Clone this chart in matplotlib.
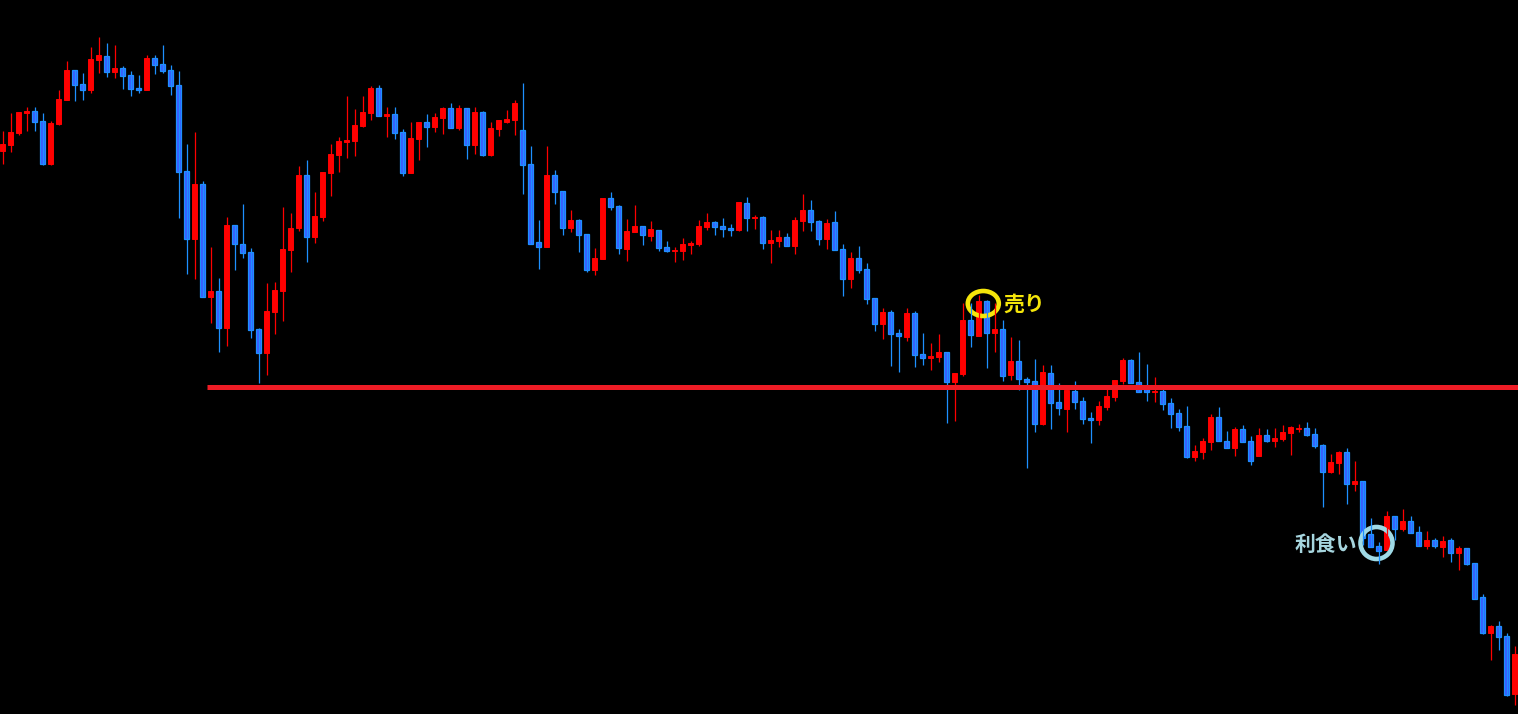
import numpy as np
import matplotlib
matplotlib.use("Agg")
import matplotlib.pyplot as plt
from matplotlib.patches import Ellipse

# candle colours: R = up (red), B = down (blue), ten candles per chunk
direction = "".join([
    "RRRRBBRRRB", "BRRBRBBBRB", "BBBBRBRBRB", "BBBRRRRRBR", "RRRRRRRBRB",
    "BRRBRRBRBR", "BRRRRBBBRB", "BRBBRRBBRR", "BRBBRRRRRB", "BBRBRBRRBR",
    "RBBRBBRBBB", "RBBRBBRRBR", "RBRBRBRBBB", "RBBRBBBRRR", "RBBBRBBBBR",
    "RRBBRBBRBR", "RRRBBBRRBR", "BBBRBRBBRB", "RBRBBBRBBR",
])

# readings in screen units (distance from the top edge)
wick_hi = [131, 113, 112, 107, 107, 113, 121, 90, 61, 70,
           73, 47, 37, 43, 45, 66, 71, 75, 55, 55,
           45, 65, 71, 144, 132, 181, 247, 278, 217, 225,
           204, 248, 328, 283, 282, 207, 213, 166, 160, 192,
           172, 144, 137, 96, 109, 96, 86, 85, 107, 107,
           129, 122, 122, 114, 113, 107, 103, 105, 108, 107,
           111, 122, 120, 110, 100, 83, 146, 220, 146, 170,
           191, 210, 219, 234, 248, 198, 192, 205, 219, 205,
           226, 221, 230, 241, 247, 238, 241, 220, 213, 221,
           218, 224, 202, 197, 215, 216, 230, 230, 233, 217,
           194, 200, 220, 219, 211, 244, 252, 246, 263, 298,
           308, 310, 329, 308, 311, 333, 343, 334, 352, 373,
           303, 303, 295, 300, 303, 320, 337, 340, 377, 359,
           365, 365, 383, 385, 381, 397, 412, 401, 387, 380,
           358, 359, 352, 364, 377, 386, 398, 409, 406, 445,
           438, 414, 407, 431, 427, 425, 436, 428, 429, 428,
           425, 426, 424, 422, 428, 444, 454, 451, 448, 461,
           481, 518, 542, 511, 516, 509, 516, 526, 531, 538,
           536, 538, 546, 548, 563, 594, 625, 621, 633, 646]
body_hi = [144, 132, 112, 111, 111, 121, 123, 99, 70, 70,
           84, 59, 55, 56, 68, 68, 75, 88, 58, 58,
           64, 70, 85, 171, 184, 184, 291, 291, 225, 225,
           244, 252, 329, 311, 290, 249, 228, 175, 175, 216,
           172, 154, 141, 140, 125, 112, 88, 88, 114, 114,
           132, 138, 122, 122, 117, 108, 108, 108, 108, 112,
           112, 128, 120, 119, 103, 130, 164, 242, 175, 175,
           191, 220, 220, 234, 258, 198, 198, 206, 231, 226,
           226, 229, 230, 247, 250, 244, 243, 226, 222, 222,
           226, 228, 202, 203, 217, 217, 240, 237, 237, 220,
           210, 210, 221, 223, 222, 249, 258, 258, 269, 298,
           312, 312, 333, 313, 313, 354, 356, 352, 352, 373,
           320, 320, 301, 301, 329, 329, 361, 361, 379, 381,
           372, 373, 402, 390, 391, 401, 418, 406, 396, 380,
           360, 360, 382, 387, 391, 391, 403, 413, 426, 451,
           441, 417, 417, 441, 429, 429, 441, 435, 435, 438,
           432, 427, 428, 428, 434, 445, 462, 452, 452, 481,
           481, 534, 546, 516, 516, 521, 521, 532, 540, 540,
           541, 540, 548, 548, 563, 597, 626, 626, 636, 654]
body_lo = [151, 145, 133, 113, 122, 164, 164, 124, 100, 85,
           90, 90, 60, 72, 72, 76, 89, 90, 90, 65,
           71, 86, 172, 239, 239, 297, 297, 328, 328, 244,
           253, 330, 353, 353, 312, 291, 250, 228, 237, 237,
           217, 173, 155, 142, 141, 126, 113, 116, 116, 133,
           173, 173, 139, 127, 127, 118, 128, 128, 145, 145,
           155, 155, 129, 122, 120, 165, 244, 247, 247, 192,
           228, 228, 235, 270, 270, 259, 207, 248, 249, 232,
           235, 236, 248, 251, 251, 251, 245, 244, 227, 227,
           229, 230, 230, 218, 218, 243, 243, 241, 246, 246,
           221, 222, 239, 239, 250, 279, 279, 270, 299, 324,
           324, 334, 336, 337, 355, 358, 358, 357, 382, 382,
           374, 335, 336, 333, 333, 376, 375, 379, 382, 424,
           424, 403, 408, 409, 402, 419, 420, 420, 407, 397,
           381, 383, 392, 392, 392, 404, 414, 427, 457, 457,
           452, 442, 441, 448, 448, 442, 461, 456, 441, 441,
           439, 433, 429, 435, 446, 472, 472, 463, 484, 484,
           538, 547, 551, 550, 529, 529, 533, 546, 546, 546,
           547, 553, 553, 564, 599, 633, 633, 637, 695, 694]
wick_lo = [164, 152, 135, 131, 131, 165, 165, 125, 100, 101,
           100, 93, 73, 77, 78, 89, 96, 93, 90, 74,
           73, 95, 218, 274, 279, 297, 323, 352, 346, 270,
           258, 338, 383, 375, 334, 321, 272, 231, 262, 243,
           221, 196, 172, 158, 156, 127, 120, 116, 137, 139,
           176, 173, 160, 147, 132, 134, 128, 130, 159, 154,
           156, 156, 136, 123, 135, 194, 244, 269, 247, 204,
           235, 232, 252, 272, 275, 259, 210, 254, 261, 232,
           245, 241, 251, 252, 262, 260, 254, 246, 230, 235,
           237, 236, 231, 231, 229, 249, 263, 247, 246, 254,
           231, 231, 245, 249, 250, 296, 288, 273, 304, 331,
           339, 366, 372, 341, 367, 365, 370, 362, 423, 421,
           376, 347, 336, 368, 352, 381, 380, 390, 468, 432,
           425, 429, 415, 432, 409, 424, 443, 425, 410, 401,
           384, 383, 392, 401, 402, 410, 428, 431, 458, 461,
           459, 450, 441, 448, 456, 442, 465, 456, 442, 447,
           441, 455, 432, 436, 448, 507, 473, 474, 504, 491,
           545, 547, 564, 550, 540, 531, 533, 546, 549, 548,
           557, 562, 570, 565, 599, 634, 660, 650, 696, 705]

H_PX = 714
high = H_PX - np.array(wick_hi, float)
low = H_PX - np.array(wick_lo, float)
top = H_PX - np.array(body_hi, float)
bot = H_PX - np.array(body_lo, float)
up = np.array([c == "R" for c in direction])
opens = np.where(up, bot, top)
closes = np.where(up, top, bot)

support_level = H_PX - 386.5
support_start = 25.6

sell_bar, sell_price = 122.6, H_PX - 303.5
exit_bar, exit_price = 171.75, H_PX - 543

RED = "#ff0000"
BLUE_EDGE = "#1e90ff"
BLUE_FILL = "#3a5cff"

fig = plt.figure(figsize=(15.18, 7.14), dpi=100, facecolor="black")
ax = fig.add_axes([0, 0, 1, 1])
ax.set_facecolor("black")

x = np.arange(len(opens))
body_h = np.maximum(np.abs(closes - opens), 1.5)
body_b = np.minimum(opens, closes)

# wicks
ax.vlines(x[up], low[up], high[up], color=RED, lw=0.9)
ax.vlines(x[~up], low[~up], high[~up], color=BLUE_EDGE, lw=0.9)

# bodies
ax.bar(x[up], body_h[up], bottom=body_b[up], width=0.56,
       color=RED, edgecolor=RED, linewidth=0.7)
ax.bar(x[~up], body_h[~up], bottom=body_b[~up], width=0.52,
       color=BLUE_FILL, edgecolor=BLUE_EDGE, linewidth=0.9)

# horizontal support line
ax.plot([support_start, 200], [support_level, support_level],
        color="#ee1c25", lw=3.6, solid_capstyle="butt")

# sell / take-profit markers
ax.add_patch(Ellipse((sell_bar, sell_price), 31 / 8, 25, fill=False,
                     edgecolor="#f5e60a", lw=3.3))
ax.text(125.05, sell_price - 1, "売り", color="#f5e60a", fontsize=15,
        fontweight="bold", family=["Noto Sans CJK JP", "DejaVu Sans"],
        ha="left", va="center")

ax.add_patch(Ellipse((exit_bar, exit_price), 32 / 8, 32, fill=False,
                     edgecolor="#9fdae6", lw=3.3))
ax.text(169.3, exit_price - 1, "利食い", color="#a6d5de", fontsize=15,
        fontweight="bold", family=["Noto Sans CJK JP", "DejaVu Sans"],
        ha="right", va="center")

ax.set_xlim(-0.3125, -0.3125 + 1518 / 8)
ax.set_ylim(0, H_PX)
ax.axis("off")

fig.savefig("out.png", dpi=100, facecolor="black")
